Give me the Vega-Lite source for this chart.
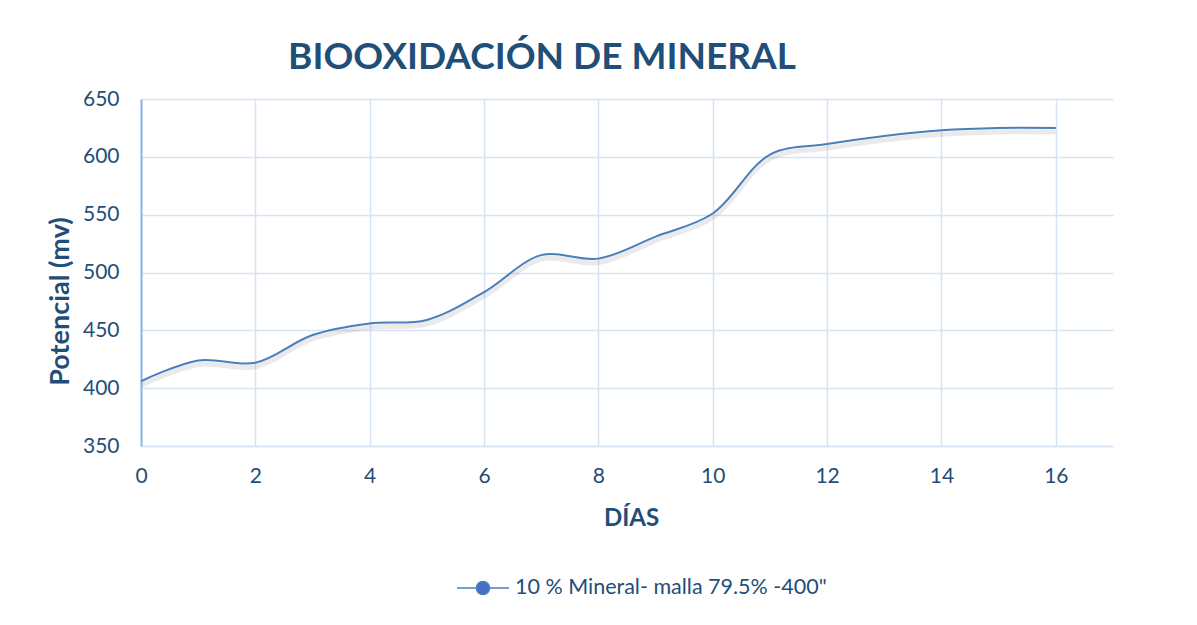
{
  "$schema": "https://vega.github.io/schema/vega-lite/v6.json",
  "width": 972,
  "height": 347,
  "autosize": {"type": "none"},
  "padding": {"left": 141, "top": 99, "right": 84, "bottom": 179},
  "background": "white",
  "title": {
    "text": "BIOOXIDACIÓN DE MINERAL",
    "font": "Lato",
    "fontSize": 37,
    "fontWeight": "bold",
    "color": "#1F4E79",
    "anchor": "middle",
    "dx": -85,
    "offset": 11
  },
  "data": {
    "values": [
      {"dia": 0, "potencial": 406},
      {"dia": 1, "potencial": 424},
      {"dia": 2, "potencial": 422},
      {"dia": 3, "potencial": 446},
      {"dia": 4, "potencial": 456},
      {"dia": 5, "potencial": 459},
      {"dia": 6, "potencial": 483},
      {"dia": 7, "potencial": 515},
      {"dia": 8, "potencial": 512},
      {"dia": 9, "potencial": 531},
      {"dia": 10, "potencial": 551},
      {"dia": 11, "potencial": 602},
      {"dia": 12, "potencial": 611},
      {"dia": 13, "potencial": 618},
      {"dia": 14, "potencial": 623},
      {"dia": 15, "potencial": 625},
      {"dia": 16, "potencial": 625}
    ]
  },
  "encoding": {
    "x": {
      "field": "dia",
      "type": "quantitative",
      "scale": {"domain": [0, 17], "nice": false, "zero": false},
      "axis": {
        "values": [0, 2, 4, 6, 8, 10, 12, 14, 16],
        "title": "DÍAS",
        "titleX": 490,
        "titleY": 60,
        "titleBaseline": "top",
        "titleFont": "Lato",
        "titleFontSize": 24,
        "titleFontWeight": "bold",
        "titleColor": "#1F4E79",
        "labelFont": "Lato",
        "labelFontSize": 21,
        "labelColor": "#1F4E79",
        "labelPadding": 19,
        "labelFlush": false,
        "ticks": false,
        "domainColor": "#D6E3F3",
        "domainWidth": 1.5,
        "gridColor": "#D6E3F3",
        "gridWidth": 1.5
      }
    },
    "y": {
      "field": "potencial",
      "type": "quantitative",
      "scale": {"domain": [350, 650], "nice": false, "zero": false},
      "axis": {
        "values": [350, 400, 450, 500, 550, 600, 650],
        "title": "Potencial (mv)",
        "titleX": -81,
        "titleY": 202,
        "titleAngle": -90,
        "titleBaseline": "middle",
        "titleAlign": "center",
        "titleFont": "Lato",
        "titleFontSize": 27,
        "titleFontWeight": "bold",
        "titleColor": "#1F4E79",
        "labelFont": "Lato",
        "labelFontSize": 21,
        "labelColor": "#1F4E79",
        "labelPadding": 22,
        "labelFlush": false,
        "ticks": false,
        "domainColor": "#8EB4E3",
        "domainWidth": 2,
        "gridColor": "#D6E3F3",
        "gridWidth": 1.5
      }
    }
  },
  "layer": [
    {
      "mark": {
        "type": "line",
        "interpolate": "catmull-rom",
        "stroke": "#7F7F7F",
        "strokeWidth": 5,
        "opacity": 0.16,
        "yOffset": 4
      }
    },
    {
      "mark": {"type": "line", "interpolate": "catmull-rom", "strokeWidth": 2},
      "encoding": {
        "color": {
          "datum": "10 % Mineral- malla 79.5% -400\"",
          "type": "nominal",
          "scale": {"range": ["#4A7EBB"]},
          "legend": {
            "title": null,
            "orient": "none",
            "legendX": 315,
            "legendY": 462,
            "symbolType": "M-1,0L-0.25,0M0.25,0L1,0M-0.25,0A0.25,0.25,0,1,1,0.25,0A0.25,0.25,0,1,1,-0.25,0Z",
            "symbolSize": 2704,
            "symbolStrokeWidth": 1.5,
            "labelFont": "Lato",
            "labelFontSize": 21.5,
            "labelColor": "#1F4E79",
            "labelOffset": 5,
            "labelLimit": 600,
            "encode": {
              "symbols": {"update": {"fill": {"value": "#4472C4"}, "stroke": {"value": "#4A7EBB"}}}
            }
          }
        }
      }
    }
  ],
  "config": {"view": {"stroke": null}}
}
